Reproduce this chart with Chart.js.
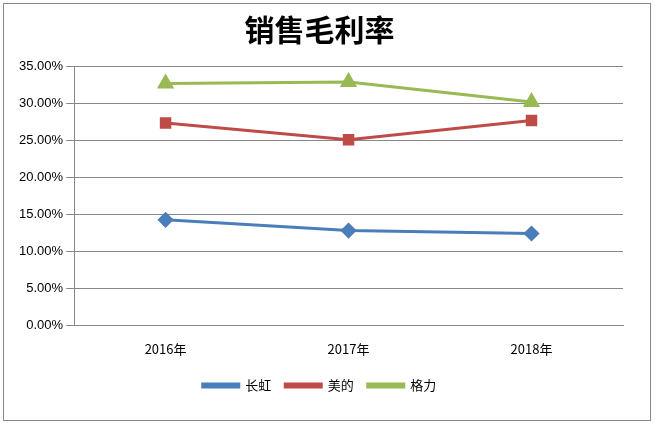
<!DOCTYPE html>
<html>
<head>
<meta charset="utf-8">
<script src="https://cdn.jsdelivr.net/npm/chart.js@4/dist/chart.umd.min.js"></script>
<style>
html, body { margin: 0; padding: 0; background: #fff; }
#wrap { position: absolute; left: 3px; top: 3px; width: 648px; height: 418px; border: 1px solid #888; box-sizing: border-box; }
</style>
</head>
<body>
<div id="wrap"><canvas id="c"></canvas></div>
<script>
// 数据
const categories = ['2016年', '2017年', '2018年'];
const changhong = [14.25, 12.8, 12.4];
const midea = [27.3, 25.05, 27.65];
const gree = [32.65, 32.85, 30.15];

new Chart(document.getElementById('c'), {
    type: 'line',
    data: {
        labels: categories,
        datasets: [
            { label: '长虹', data: changhong, borderColor: '#4a7ebb', backgroundColor: '#4a7ebb',
              pointStyle: 'rectRot', pointRadius: 6, borderWidth: 3 },
            { label: '美的', data: midea, borderColor: '#be4b48', backgroundColor: '#be4b48',
              pointStyle: 'rect', pointRadius: 6, borderWidth: 3 },
            { label: '格力', data: gree, borderColor: '#98b954', backgroundColor: '#98b954',
              pointStyle: 'triangle', pointRadius: 7, borderWidth: 3 }
        ]
    },
    options: {
        responsive: true,
        maintainAspectRatio: false,
        animation: false,
        layout: { padding: { left: 12, right: 27, top: 4, bottom: 18 } },
        scales: {
            x: {
                offset: true,
                grid: { display: false },
                border: { color: '#888' },
                ticks: { color: '#000', padding: 8, font: { size: 13, family: "'Noto Sans CJK SC'" } }
            },
            y: {
                min: 0, max: 35,
                ticks: { stepSize: 5, color: '#000', font: { size: 13, family: "'Liberation Sans'" },
                         callback: v => v.toFixed(2) + '%' },
                grid: { color: '#888' },
                border: { color: '#888' }
            }
        },
        plugins: {
            title: { display: true, text: '销售毛利率', color: '#000',
                     font: { size: 30, weight: 'bold', family: "'Noto Sans CJK SC'" },
                     padding: { top: 4, bottom: 18 } },
            legend: { position: 'bottom',
                      labels: { boxWidth: 36, boxHeight: 3, color: '#000',
                                font: { size: 13, family: "'Noto Sans CJK SC'" }, padding: 14 } }
        }
    }
});
</script>
</body>
</html>
